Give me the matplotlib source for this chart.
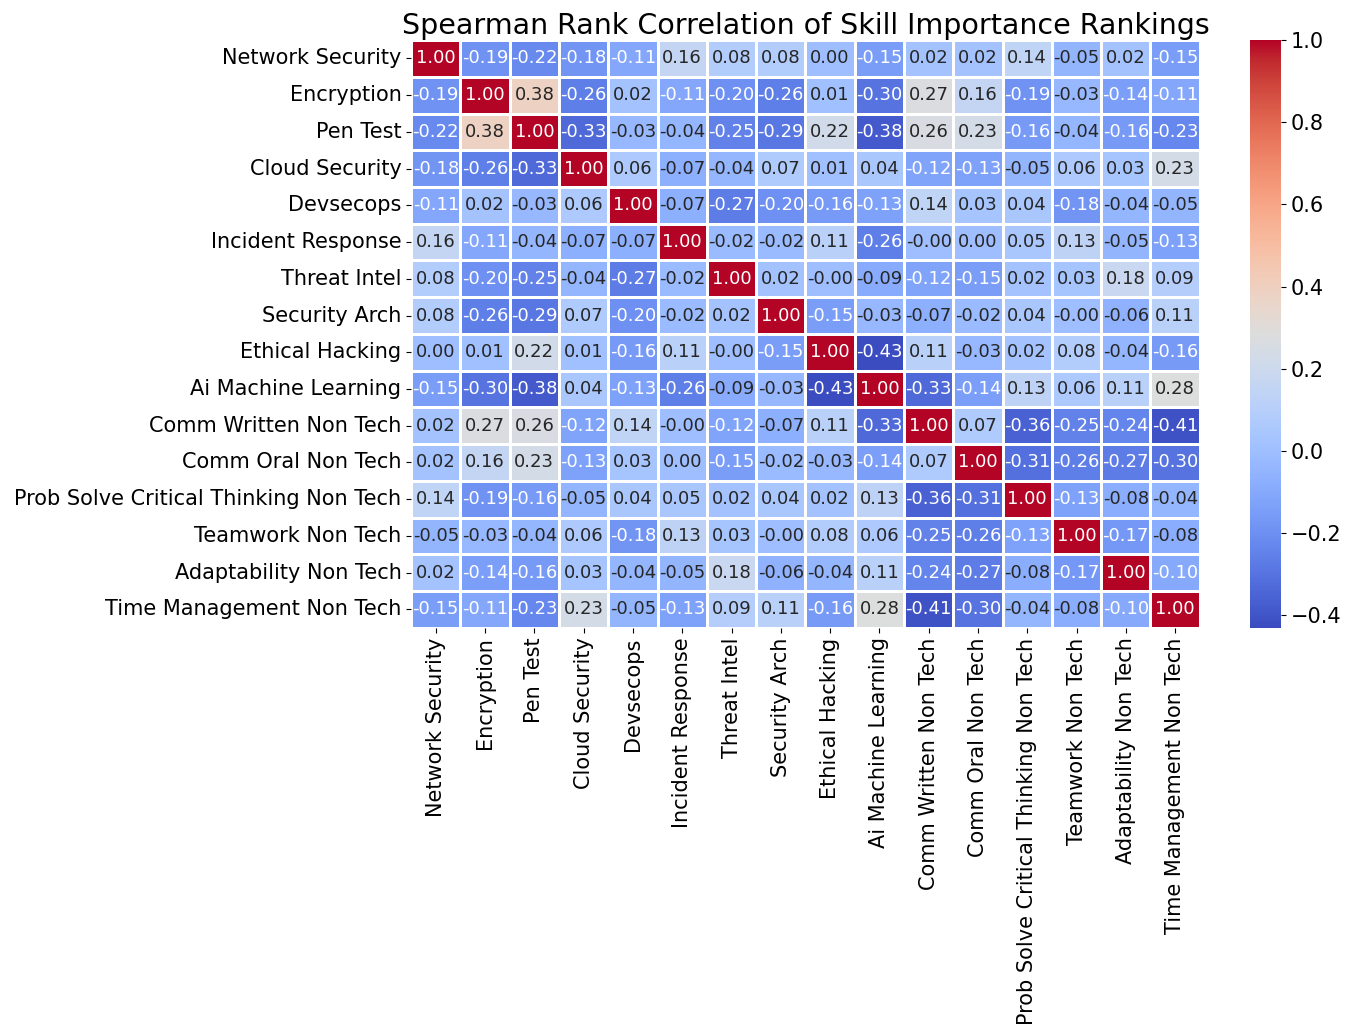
import numpy as np
import pandas as pd
import seaborn as sns
import matplotlib.pyplot as plt

skills = [
    "Network Security", "Encryption", "Pen Test", "Cloud Security", "Devsecops",
    "Incident Response", "Threat Intel", "Security Arch", "Ethical Hacking",
    "Ai Machine Learning", "Comm Written Non Tech", "Comm Oral Non Tech",
    "Prob Solve Critical Thinking Non Tech", "Teamwork Non Tech",
    "Adaptability Non Tech", "Time Management Non Tech",
]

# Spearman correlations, one row per skill
network_security = [1.00, -0.19, -0.22, -0.18, -0.11, 0.16, 0.08, 0.08, 0.00, -0.15, 0.02, 0.02, 0.14, -0.05, 0.02, -0.15]
encryption = [-0.19, 1.00, 0.38, -0.26, 0.02, -0.11, -0.20, -0.26, 0.01, -0.30, 0.27, 0.16, -0.19, -0.03, -0.14, -0.11]
pen_test = [-0.22, 0.38, 1.00, -0.33, -0.03, -0.04, -0.25, -0.29, 0.22, -0.38, 0.26, 0.23, -0.16, -0.04, -0.16, -0.23]
cloud_security = [-0.18, -0.26, -0.33, 1.00, 0.06, -0.07, -0.04, 0.07, 0.01, 0.04, -0.12, -0.13, -0.05, 0.06, 0.03, 0.23]
devsecops = [-0.11, 0.02, -0.03, 0.06, 1.00, -0.07, -0.27, -0.20, -0.16, -0.13, 0.14, 0.03, 0.04, -0.18, -0.04, -0.05]
incident_response = [0.16, -0.11, -0.04, -0.07, -0.07, 1.00, -0.02, -0.02, 0.11, -0.26, -0.001, 0.00, 0.05, 0.13, -0.05, -0.13]
threat_intel = [0.08, -0.20, -0.25, -0.04, -0.27, -0.02, 1.00, 0.02, -0.001, -0.09, -0.12, -0.15, 0.02, 0.03, 0.18, 0.09]
security_arch = [0.08, -0.26, -0.29, 0.07, -0.20, -0.02, 0.02, 1.00, -0.15, -0.03, -0.07, -0.02, 0.04, -0.001, -0.06, 0.11]
ethical_hacking = [0.00, 0.01, 0.22, 0.01, -0.16, 0.11, -0.001, -0.15, 1.00, -0.43, 0.11, -0.03, 0.02, 0.08, -0.04, -0.16]
ai_ml = [-0.15, -0.30, -0.38, 0.04, -0.13, -0.26, -0.09, -0.03, -0.43, 1.00, -0.33, -0.14, 0.13, 0.06, 0.11, 0.28]
comm_written = [0.02, 0.27, 0.26, -0.12, 0.14, -0.001, -0.12, -0.07, 0.11, -0.33, 1.00, 0.07, -0.36, -0.25, -0.24, -0.41]
comm_oral = [0.02, 0.16, 0.23, -0.13, 0.03, 0.00, -0.15, -0.02, -0.03, -0.14, 0.07, 1.00, -0.31, -0.26, -0.27, -0.30]
prob_solve = [0.14, -0.19, -0.16, -0.05, 0.04, 0.05, 0.02, 0.04, 0.02, 0.13, -0.36, -0.31, 1.00, -0.13, -0.08, -0.04]
teamwork = [-0.05, -0.03, -0.04, 0.06, -0.18, 0.13, 0.03, -0.001, 0.08, 0.06, -0.25, -0.26, -0.13, 1.00, -0.17, -0.08]
adaptability = [0.02, -0.14, -0.16, 0.03, -0.04, -0.05, 0.18, -0.06, -0.04, 0.11, -0.24, -0.27, -0.08, -0.17, 1.00, -0.10]
time_management = [-0.15, -0.11, -0.23, 0.23, -0.05, -0.13, 0.09, 0.11, -0.16, 0.28, -0.41, -0.30, -0.04, -0.08, -0.10, 1.00]

rows = [
    network_security, encryption, pen_test, cloud_security, devsecops,
    incident_response, threat_intel, security_arch, ethical_hacking, ai_ml,
    comm_written, comm_oral, prob_solve, teamwork, adaptability, time_management,
]
corr = pd.DataFrame(np.array(rows), index=skills, columns=skills)

fig = plt.figure(figsize=(13.48, 10.29), dpi=100)
ax = fig.add_axes([0.305, 0.390, 0.585, 0.571])
cax = fig.add_axes([0.927, 0.390, 0.023, 0.571])

sns.heatmap(
    corr,
    ax=ax,
    cbar_ax=cax,
    cmap="coolwarm",
    annot=True,
    fmt=".2f",
    annot_kws={"size": 13},
    linewidths=1,
    linecolor="white",
)

ax.set_title("Spearman Rank Correlation of Skill Importance Rankings", fontsize=20.5, pad=4)
ax.tick_params(axis="both", labelsize=15)
ax.set_xticklabels(skills, rotation=90)
ax.set_yticklabels(skills, rotation=0)
cax.tick_params(labelsize=15)

plt.savefig("out.png", dpi=100)
